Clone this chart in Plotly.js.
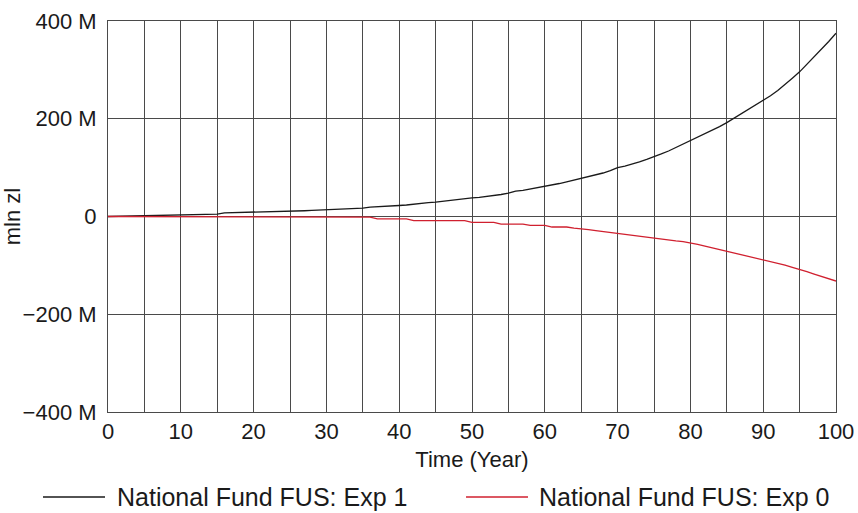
<!DOCTYPE html>
<html>
<head>
<meta charset="utf-8">
<script src="https://cdn.plot.ly/plotly-3.0.1.min.js"></script>
<style>
html,body{margin:0;padding:0;background:#fff;}
#chart{width:858px;height:513px;}
</style>
</head>
<body>
<div id="chart"></div>
<script>
// Time in years
const years = [];
for (let i = 0; i <= 100; i++) years.push(i);

// National Fund FUS: Exp 1 (mln zl, millions)
const exp1 = [
  0, 0.3, 0.6, 0.9, 1.2, 1.5, 2.8, 3, 3.2, 3.4,
  3.6, 3.8, 4, 4.3, 4.6, 5, 7.5, 7.8, 8, 8.2,
  8.5, 9, 10.5, 10.8, 11, 11.2, 11.5, 11.8, 12.5, 13,
  13.4, 13.8, 15.5, 16, 16.5, 17, 19, 19.5, 20.5, 22,
  22.5, 23.5, 25.5, 26.5, 28.5, 29.5, 31.5, 33, 35, 36.5,
  38, 39, 40.5, 42.5, 45, 48, 52, 53.5, 56, 59,
  62, 64.5, 67.5, 71, 74.5, 78, 81.5, 85, 89, 94,
  100, 103, 107, 112, 117, 122, 128, 134, 141, 148,
  155, 162, 169, 176, 184, 192, 201, 210, 219, 228,
  237, 247, 258, 270, 283, 296, 311, 326, 342, 358,
  375
];

// National Fund FUS: Exp 0 (mln zl, millions)
const exp0 = [
  0, 0, 0, 0, 0, -0.1, -0.1, -0.1, -0.1, -0.1,
  -0.2, -0.2, -0.2, -0.2, -0.2, -0.3, -0.3, -0.3, -0.3, -0.3,
  -0.4, -0.4, -0.4, -0.5, -0.5, -0.6, -0.8, -1.2, -1.2, -1.2,
  -1.2, -1.2, -1.2, -1.2, -1.2, -1.2, -1.2, -5, -5, -5,
  -5, -5, -8.5, -8.5, -8.5, -8.5, -8.5, -8.5, -8.5, -8.5,
  -12, -12, -12, -12, -15.5, -15.5, -15.5, -15.5, -18, -18,
  -18, -21.5, -21.5, -21.5, -24, -25, -27, -29, -31, -32.5,
  -34, -36, -38, -40, -42, -44, -46, -48, -50, -51.5,
  -53.5, -57, -60.5, -64, -67.5, -71, -74, -77.5, -81, -84,
  -87.5, -91.5, -95.5, -99.5, -104, -108, -113, -118, -122.5, -127,
  -132
];

const seriesNames = ["National Fund FUS: Exp 1", "National Fund FUS: Exp 0"];
const xTickVals = [0, 10, 20, 30, 40, 50, 60, 70, 80, 90, 100];
const yTickVals = [-400, -200, 0, 200, 400];
const yTickText = ["\u2212400 M", "\u2212200 M", "0", "200 M", "400 M"];

const FONT = "Liberation Sans, Arial, sans-serif";
const GRID = "#4a4a4a";
const colors = ["#1a1a1a", "#d0202f"];

const traces = [
  {x: years, y: exp1, type: "scatter", mode: "lines", name: seriesNames[0],
   line: {color: colors[0], width: 1.3}, showlegend: false},
  {x: years, y: exp0, type: "scatter", mode: "lines", name: seriesNames[1],
   line: {color: colors[1], width: 1.3}, showlegend: false}
];

const layout = {
  width: 858, height: 513,
  margin: {l: 108, r: 22, t: 21, b: 101},
  paper_bgcolor: "#ffffff", plot_bgcolor: "#ffffff",
  font: {family: FONT, size: 22, color: "#1a1a1a"},
  xaxis: {
    range: [0, 100], tickvals: xTickVals, ticks: "", ticklen: 0,
    showgrid: true, gridcolor: GRID, gridwidth: 1,
    minor: {dtick: 5, tick0: 0, showgrid: true, gridcolor: GRID, gridwidth: 1},
    showline: true, mirror: true, linecolor: GRID, linewidth: 1,
    zeroline: false, fixedrange: true,
    tickfont: {family: FONT, size: 22, color: "#1a1a1a"},
    title: {text: "Time (Year)", font: {family: FONT, size: 22, color: "#1a1a1a"}, standoff: 8}
  },
  yaxis: {
    range: [-400, 400], tickvals: yTickVals, ticktext: yTickText, ticks: "",
    showgrid: true, gridcolor: GRID, gridwidth: 1,
    showline: true, mirror: true, linecolor: GRID, linewidth: 1,
    zeroline: true, zerolinecolor: GRID, zerolinewidth: 1, fixedrange: true,
    ticklabelstandoff: 6,
    tickfont: {family: FONT, size: 22, color: "#1a1a1a"},
    title: {text: "mln zl", font: {family: FONT, size: 22, color: "#1a1a1a"}, standoff: 4}
  },
  shapes: [
    {type: "line", xref: "paper", yref: "paper", x0: -0.0893, x1: -0.0041, y0: -0.2174, y1: -0.2174,
     line: {color: colors[0], width: 1.3}},
    {type: "line", xref: "paper", yref: "paper", x0: 0.4918, x1: 0.5769, y0: -0.2174, y1: -0.2174,
     line: {color: colors[1], width: 1.3}}
  ],
  annotations: [
    {xref: "paper", yref: "paper", x: 0.0096, y: -0.2174, xanchor: "left", yanchor: "middle",
     text: seriesNames[0], showarrow: false, font: {family: FONT, size: 25, color: "#1a1a1a"}},
    {xref: "paper", yref: "paper", x: 0.5893, y: -0.2174, xanchor: "left", yanchor: "middle",
     text: seriesNames[1], showarrow: false, font: {family: FONT, size: 25, color: "#1a1a1a"}}
  ],
  showlegend: false
};

Plotly.newPlot("chart", traces, layout, {displayModeBar: false, staticPlot: true});
</script>
</body>
</html>
